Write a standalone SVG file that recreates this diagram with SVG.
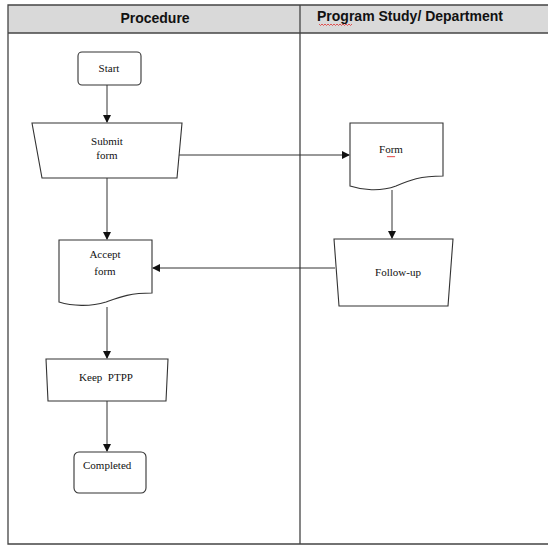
<svg xmlns="http://www.w3.org/2000/svg" width="548" height="546" viewBox="0 0 548 546">
<defs>
<style>
.frame{fill:none;stroke:#444;stroke-width:1.3}
.shape{fill:#fff;stroke:#333;stroke-width:1.1}
.conn{fill:none;stroke:#333;stroke-width:1}
.hdr{font-family:"Liberation Sans",Arial,sans-serif;font-weight:bold;font-size:14px;fill:#111;text-anchor:middle}
.lbl{font-family:"Liberation Serif","Times New Roman",serif;font-size:11px;fill:#111;text-anchor:middle}
.squig{fill:none;stroke:#e03030;stroke-width:0.8}
</style>
<marker id="arr" markerWidth="8" markerHeight="8" refX="7" refY="4" orient="auto" markerUnits="userSpaceOnUse">
<path d="M0,0 L8,4 L0,8 Z" fill="#111"/>
</marker>
</defs>
<rect x="0" y="0" width="548" height="546" fill="#fff"/>
<g id="table">
<rect x="8" y="5" width="542" height="28" fill="#d9d9d9"/>
<path class="frame" d="M550,5 H8 V544 H550"/>
<line class="frame" x1="8" y1="33" x2="550" y2="33"/>
<line class="frame" x1="300" y1="5" x2="300" y2="544"/>
<text class="hdr" x="155" y="23">Procedure</text>
<text class="hdr" x="410" y="21">Program Study/ Department</text>
<path class="squig" d="M319,24 l1.5,1.5 l1.5,-1.5 l1.5,1.5 l1.5,-1.5 l1.5,1.5 l1.5,-1.5 l1.5,1.5 l1.5,-1.5 l1.5,1.5 l1.5,-1.5 l1.5,1.5 l1.5,-1.5 l1.5,1.5 l1.5,-1.5 l1.5,1.5 l1.5,-1.5 l1.5,1.5 l1.5,-1.5 l1.5,1.5 l1.5,-1.5 l1.5,1.5 l1.5,-1.5"/>
</g>
<g id="connectors">
<line class="conn" x1="107" y1="85" x2="107" y2="122" marker-end="url(#arr)"/>
<line class="conn" x1="177" y1="155" x2="349" y2="155" marker-end="url(#arr)"/>
<line class="conn" x1="107" y1="178" x2="107" y2="239" marker-end="url(#arr)"/>
<line class="conn" x1="392" y1="190" x2="392" y2="238" marker-end="url(#arr)"/>
<line class="conn" x1="335" y1="268" x2="153" y2="268" marker-end="url(#arr)"/>
<line class="conn" x1="107" y1="307" x2="107" y2="358" marker-end="url(#arr)"/>
<line class="conn" x1="107" y1="401" x2="107" y2="451" marker-end="url(#arr)"/>
</g>
<g id="start">
<rect class="shape" x="78" y="52" width="63" height="33" rx="4"/>
<text class="lbl" x="109" y="72">Start</text>
</g>
<g id="submit-form">
<path class="shape" d="M32,123 H182 L177,178 H42 Z"/>
<text class="lbl" x="107" y="145">Submit</text>
<text class="lbl" x="107" y="159">form</text>
</g>
<g id="form">
<path class="shape" d="M350,123 H443 V176 C420,176 410,180 396,186 C380,192 362,190 350,186 Z"/>
<text class="lbl" x="391" y="153">Form</text>
<path class="squig" d="M387,156 l1,1.2 l1,-1.2 l1,1.2 l1,-1.2 l1,1.2 l1,-1.2 l1,1.2 l1,-1.2"/>
</g>
<g id="follow-up">
<path class="shape" d="M334,239 H453 L448,306 H339 Z"/>
<text class="lbl" x="398" y="276">Follow-up</text>
</g>
<g id="accept-form">
<path class="shape" d="M59,240 H152 V293 C130,293 120,297 106,302 C90,307 72,306 59,302 Z"/>
<text class="lbl" x="105" y="258">Accept</text>
<text class="lbl" x="105" y="275">form</text>
</g>
<g id="keep-ptpp">
<path class="shape" d="M46,359 H168 L166,401 H48 Z"/>
<text class="lbl" x="106" y="381" xml:space="preserve">Keep  PTPP</text>
</g>
<g id="completed">
<rect class="shape" x="74" y="452" width="72" height="41" rx="5"/>
<text class="lbl" x="83" y="469" style="text-anchor:start">Completed</text>
</g>
</svg>
